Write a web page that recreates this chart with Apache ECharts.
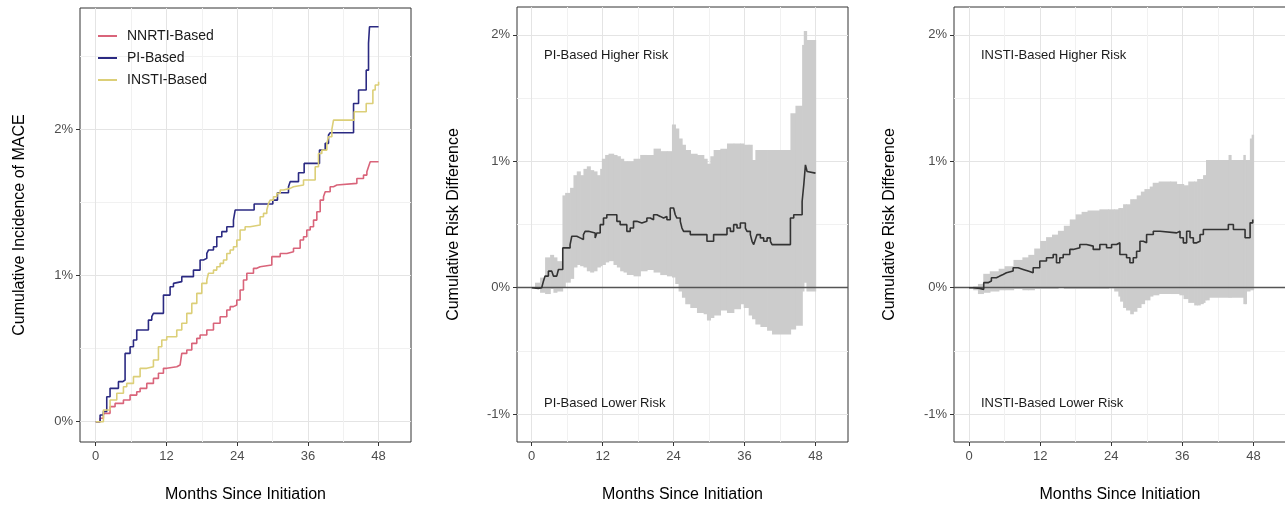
<!DOCTYPE html>
<html>
<head>
<meta charset="utf-8">
<script src="https://cdn.jsdelivr.net/npm/echarts@6/dist/echarts.min.js"></script>
<style>
  html, body { margin: 0; padding: 0; background: #fff; }
  #chart { width: 1285px; height: 505px; }
</style>
</head>
<body>
<div id="chart"></div>
<script>
// panel 1: cumulative incidence (%)
var nnrtiMonths = [0,0.74,1.30,2.43,3.28,4.70,5.83,6.96,7.53,8.66,9.79,10.64,11.49,12.05,13.75,14.32,14.60,15.45,16.30,17.15,17.71,18.85,19.98,21.11,22.24,22.81,23.37,23.94,24.50,25.07,25.64,26.77,27.33,27.90,29.88,31.30,32.43,33.56,34.69,35.26,35.82,36.39,36.96,37.52,38.09,38.65,38.94,39.78,40.35,40.92,44.31,45.44,46.01,46.29,46.58,48];
var nnrtiRisk = [0,0.023,0.057,0.103,0.125,0.148,0.182,0.205,0.228,0.262,0.296,0.331,0.365,0.376,0.388,0.399,0.467,0.490,0.536,0.570,0.593,0.627,0.673,0.718,0.764,0.787,0.798,0.832,0.901,0.969,1.015,1.049,1.060,1.072,1.129,1.151,1.163,1.186,1.243,1.265,1.311,1.334,1.379,1.436,1.516,1.539,1.573,1.607,1.619,1.630,1.664,1.687,1.710,1.744,1.778,1.778];

var piMonths = [0,0.74,1.30,1.87,2.43,3.85,4.60,4.98,5.83,6.40,6.96,8.94,9.51,9.79,11.49,12.62,13.19,13.47,14.60,16.58,17.71,18.28,18.85,19.13,19.98,20.54,21.39,22.24,23.37,23.66,26.88,30.05,30.84,32.71,32.99,34.41,35.37,37.97,38.94,39.50,39.78,43.75,44.60,45.90,46.29,46.46,48];
var piRisk = [0,0.046,0.070,0.171,0.228,0.274,0.285,0.467,0.513,0.559,0.627,0.695,0.718,0.741,0.866,0.923,0.946,0.958,0.992,1.037,1.106,1.117,1.151,1.174,1.197,1.265,1.300,1.334,1.379,1.448,1.489,1.516,1.566,1.607,1.642,1.703,1.767,1.858,1.904,1.961,1.977,2.177,2.269,2.405,2.588,2.702,2.702];

var instiMonths = [0,1.30,2.43,3.57,4.70,5.26,6.40,7.53,8.66,9.79,10.64,11.21,12.05,13.75,14.60,15.45,16.30,17.15,18.00,18.85,19.13,19.98,20.54,21.11,21.68,22.24,22.81,23.37,23.94,24.50,25.35,26.20,27.90,28.47,29.03,29.32,29.60,30.16,30.73,31.30,31.86,32.99,33.56,35.26,37.24,37.80,38.37,39.22,39.50,40.07,40.35,43.86,45.90,47.03,47.43,48];
var instiRisk = [0,0.080,0.148,0.194,0.239,0.262,0.308,0.365,0.376,0.422,0.513,0.559,0.581,0.627,0.673,0.741,0.809,0.878,0.946,0.969,1.015,1.037,1.060,1.083,1.106,1.151,1.174,1.197,1.243,1.311,1.334,1.345,1.402,1.425,1.448,1.493,1.516,1.539,1.562,1.585,1.596,1.607,1.619,1.653,1.744,1.835,1.858,1.904,1.949,2.000,2.063,2.120,2.177,2.269,2.303,2.326];

// panel 2: PI vs NNRTI risk difference (%)
var piDiffMonths = [0,0.28,1.13,1.69,1.98,2.26,2.82,3.39,3.67,4.23,4.52,5.25,6.49,6.78,7.62,8.19,8.75,9.03,9.60,9.88,10.73,11.01,11.58,12.14,12.70,14.40,14.96,16.09,16.66,17.22,17.79,18.63,18.92,19.48,20.05,20.61,21.17,21.74,22.30,22.87,23.43,24.00,24.28,24.56,25.13,25.41,25.69,26.82,29.64,30.77,33.03,33.60,34.16,34.73,35.29,36.14,36.42,36.98,37.27,37.55,37.83,38.11,38.68,39.24,39.81,40.37,40.65,43.76,44.32,45.74,46.02,46.30,46.58,46.87,48];
var piDiff = [0,-0.005,0,0.013,0.052,0.092,0.131,0.118,0.092,0.105,0.144,0.315,0.341,0.407,0.394,0.381,0.420,0.446,0.459,0.433,0.394,0.433,0.499,0.551,0.577,0.525,0.499,0.446,0.472,0.525,0.512,0.499,0.525,0.551,0.538,0.577,0.564,0.551,0.564,0.538,0.630,0.617,0.577,0.551,0.525,0.472,0.446,0.420,0.367,0.420,0.472,0.446,0.499,0.472,0.512,0.472,0.446,0.420,0.367,0.341,0.381,0.420,0.394,0.367,0.394,0.367,0.341,0.551,0.577,0.682,0.814,0.971,0.919,0.906,0.906];
var piCiMonths = [0,0.56,1.41,2.26,3.11,3.67,4.23,5.2,5.65,6.49,7.06,7.62,8.19,8.75,9.32,9.88,10.45,11.01,11.58,11.86,12.42,12.99,13.83,14.40,14.96,15.53,16.09,17.22,18.35,19.48,20.61,21.74,22.87,23.72,24.28,24.84,25.41,25.97,26.82,27.95,29.08,29.64,30.21,30.77,31.90,33.03,34.16,35.29,35.86,36.70,37.27,37.83,38.68,39.81,40.65,43.76,44.61,45.74,46.02,46.47,48];
var piCiLower = [0,-0.01,-0.04,-0.05,-0.01,-0.04,-0.03,0.0,0.04,0.07,0.16,0.18,0.17,0.16,0.13,0.12,0.13,0.16,0.17,0.18,0.20,0.21,0.18,0.16,0.13,0.12,0.10,0.09,0.13,0.14,0.12,0.10,0.09,0.08,0.03,-0.03,-0.08,-0.13,-0.16,-0.20,-0.21,-0.26,-0.24,-0.22,-0.18,-0.20,-0.17,-0.13,-0.16,-0.22,-0.25,-0.29,-0.31,-0.34,-0.37,-0.33,-0.30,-0.03,0.04,-0.03,-0.03];
var piCiUpper = [0,0.04,0.08,0.24,0.26,0.24,0.21,0.73,0.75,0.79,0.89,0.92,0.89,0.94,0.96,0.93,0.92,0.89,0.94,1.02,1.05,1.06,1.05,1.04,1.02,1.00,1.00,1.02,1.05,1.05,1.10,1.08,1.08,1.29,1.26,1.18,1.13,1.09,1.06,1.05,1.02,0.98,1.04,1.09,1.10,1.14,1.14,1.14,1.13,1.13,1.01,1.09,1.09,1.09,1.09,1.38,1.44,1.92,2.03,1.96,1.96];

// panel 3: INSTI vs NNRTI risk difference (%)
var instiDiffMonths = [0,0.68,1.80,2.48,3.21,3.77,4.62,5.18,5.75,6.31,7.44,8.28,9.13,9.97,10.82,11.94,13.07,14.20,14.76,15.32,15.89,17.01,17.58,18.70,19.83,20.96,22.08,23.21,24.06,24.90,25.46,26.59,27.15,27.72,28.28,28.85,29.41,29.97,31.10,32.23,35.04,35.61,36.17,36.73,37.30,37.86,38.42,38.99,39.55,43.77,44.62,46.59,47.44,47.89,48];
var instiDiff = [0,-0.005,-0.013,0.04,0.053,0.079,0.092,0.105,0.118,0.132,0.158,0.145,0.132,0.118,0.158,0.211,0.237,0.263,0.197,0.237,0.263,0.303,0.316,0.342,0.329,0.303,0.342,0.316,0.342,0.355,0.263,0.237,0.197,0.237,0.289,0.368,0.355,0.421,0.447,0.434,0.447,0.395,0.355,0.447,0.395,0.355,0.368,0.421,0.461,0.500,0.461,0.395,0.513,0.539,0.539];
var instiCiMonths = [0,0.7,1.5,2.4,3.5,5,6,7.5,9,10,11,12,13,14,15,16,17,18,19,20,22,23.5,24.5,25.2,25.5,26,26.5,27.2,27.7,28.3,29,29.6,30.5,31,32,34,35,35.5,36.2,37,38,38.5,39,39.5,39.8,40,40.5,43.8,44.2,46.3,46.6,46.8,47.4,47.7,48];
var instiCiLower = [0,-0.02,-0.05,-0.04,-0.03,-0.02,-0.02,-0.01,-0.02,-0.02,-0.01,-0.01,-0.01,-0.01,0.0,-0.01,-0.01,-0.01,-0.01,-0.01,-0.01,-0.005,-0.03,-0.07,-0.11,-0.16,-0.18,-0.21,-0.19,-0.16,-0.13,-0.10,-0.07,-0.06,-0.05,-0.05,-0.05,-0.06,-0.09,-0.12,-0.14,-0.14,-0.13,-0.12,-0.10,-0.10,-0.08,-0.08,-0.08,-0.13,-0.13,-0.03,-0.02,-0.02,-0.02];
var instiCiUpper = [0,0.01,0.03,0.11,0.13,0.15,0.17,0.22,0.24,0.26,0.31,0.37,0.40,0.42,0.45,0.49,0.54,0.58,0.60,0.61,0.62,0.62,0.62,0.63,0.63,0.66,0.66,0.70,0.70,0.73,0.76,0.78,0.80,0.83,0.84,0.84,0.82,0.82,0.81,0.84,0.84,0.86,0.86,0.89,0.89,1.01,1.01,1.05,1.01,1.05,1.01,1.01,1.18,1.21,1.21];

// ticks
var monthTicks = [0, 12, 24, 36, 48];
var monthMinor = [6, 18, 30, 42];
var incTicks = [0, 1, 2];
var incMinor = [0.5, 1.5, 2.5];
var diffTicks = [-1, 0, 1, 2];
var diffMinor = [-0.5, 0.5, 1.5];

var FONT = 'Liberation Sans, Arial, sans-serif';

function pairs(xs, ys) {
  return xs.map(function (x, i) { return [x, ys[i]]; });
}

function xAxes(gi, min, max) {
  return [{
    gridIndex: gi, type: 'value', min: min, max: max,
    axisLine: { show: false, onZero: false },
    axisTick: { show: true, customValues: monthTicks, length: 4, lineStyle: { color: '#333' } },
    axisLabel: { customValues: monthTicks, color: '#4d4d4d', fontSize: 13, margin: 8 },
    splitLine: { show: true, lineStyle: { color: '#e4e4e4', width: 1 } },
    name: 'Months Since Initiation', nameLocation: 'middle', nameGap: 45,
    nameTextStyle: { fontSize: 16, color: '#000' }
  }, {
    gridIndex: gi, type: 'value', min: min, max: max, position: 'bottom',
    axisLine: { show: false, onZero: false },
    axisTick: { show: false, customValues: monthMinor },
    axisLabel: { show: false },
    splitLine: { show: true, lineStyle: { color: '#f1f1f1', width: 1 } }
  }];
}

function yAxes(gi, min, max, ticks, minor, name, gap) {
  return [{
    gridIndex: gi, type: 'value', min: min, max: max,
    axisLine: { show: false, onZero: false },
    axisTick: { show: true, customValues: ticks, length: 4, lineStyle: { color: '#333' } },
    axisLabel: { customValues: ticks, color: '#4d4d4d', fontSize: 13, margin: 7, formatter: '{value}%' },
    splitLine: { show: true, lineStyle: { color: '#e4e4e4', width: 1 } },
    name: name, nameLocation: 'middle', nameGap: gap,
    nameTextStyle: { fontSize: 16, color: '#000' }
  }, {
    gridIndex: gi, type: 'value', min: min, max: max, position: 'left',
    axisLine: { show: false, onZero: false },
    axisTick: { show: false, customValues: minor },
    axisLabel: { show: false },
    splitLine: { show: true, lineStyle: { color: '#f1f1f1', width: 1 } }
  }];
}

function stepLine(name, xi, xs, ys, color) {
  return {
    type: 'line', name: name, xAxisIndex: xi, yAxisIndex: xi,
    data: pairs(xs, ys), step: 'end', symbol: 'none', z: 5,
    lineStyle: { color: color, width: 1.6 }, itemStyle: { color: color }
  };
}

// confidence band: one rectangle per step, from month i to month i+1
function ribbon(xi, xs, lower, upper) {
  var rows = xs.slice(0, -1).map(function (x, i) {
    return [x, xs[i + 1], lower[i], upper[i]];
  });
  return {
    type: 'custom', xAxisIndex: xi, yAxisIndex: xi, silent: true, z: 2,
    encode: { x: [0, 1], y: [2, 3] },
    data: rows,
    renderItem: function (params, api) {
      var a = api.coord([api.value(0), api.value(3)]);
      var b = api.coord([api.value(1), api.value(2)]);
      return {
        type: 'rect',
        shape: { x: a[0], y: a[1], width: b[0] - a[0] + 0.7, height: b[1] - a[1] },
        style: { fill: '#cccccc' }
      };
    }
  };
}

function diffLine(name, xi, xs, ys) {
  return {
    type: 'line', name: name, xAxisIndex: xi, yAxisIndex: xi,
    data: pairs(xs, ys), step: 'end', symbol: 'none', z: 6,
    lineStyle: { color: '#333333', width: 1.6 },
    markLine: {
      silent: true, symbol: ['none', 'none'], label: { show: false },
      lineStyle: { color: '#555555', width: 1.3, type: 'solid' },
      data: [{ yAxis: 0 }]
    }
  };
}

function note(text, x, y) {
  return {
    type: 'text', left: x, top: y, z: 100,
    style: { text: text, fontSize: 13, fontFamily: FONT, fill: '#1a1a1a' }
  };
}

var myChart = echarts.init(document.getElementById('chart'));
var gridBase = { show: true, borderColor: '#333', borderWidth: 1, backgroundColor: '#fff', outerBoundsMode: 'none', containLabel: false };
var option = {
  animation: false,
  textStyle: { fontFamily: FONT },
  grid: [
    Object.assign({ left: 80, top: 8, width: 331, height: 434 }, gridBase),
    Object.assign({ left: 517, top: 7, width: 331, height: 435 }, gridBase),
    Object.assign({ left: 954, top: 7, width: 332, height: 435 }, gridBase)
  ],
  xAxis: [].concat(xAxes(0, -2.67, 53.5), xAxes(1, -2.49, 53.5), xAxes(2, -2.54, 53.5)),
  yAxis: [].concat(
    yAxes(0, -0.139, 2.83, incTicks, incMinor, 'Cumulative Incidence of MACE', 52),
    yAxes(1, -1.22, 2.22, diffTicks, diffMinor, 'Cumulative Risk Difference', 55),
    yAxes(2, -1.22, 2.22, diffTicks, diffMinor, 'Cumulative Risk Difference', 56)
  ),
  legend: {
    left: 98, top: 29, padding: 0, orient: 'vertical', icon: 'rect',
    itemWidth: 19, itemHeight: 2, itemGap: 8,
    textStyle: { fontSize: 14, color: '#1a1a1a', padding: [0, 0, 0, 5] },
    data: ['NNRTI-Based', 'PI-Based', 'INSTI-Based']
  },
  graphic: [
    note('PI-Based Higher Risk', 544, 49),
    note('PI-Based Lower Risk', 544, 397),
    note('INSTI-Based Higher Risk', 981, 49),
    note('INSTI-Based Lower Risk', 981, 397)
  ],
  series: [].concat(
    [stepLine('NNRTI-Based', 0, nnrtiMonths, nnrtiRisk, '#d9647a'),
     stepLine('PI-Based', 0, piMonths, piRisk, '#2b2a82'),
     stepLine('INSTI-Based', 0, instiMonths, instiRisk, '#dccf78')],
    [ribbon(2, piCiMonths, piCiLower, piCiUpper),
     diffLine('PI vs NNRTI', 2, piDiffMonths, piDiff)],
    [ribbon(4, instiCiMonths, instiCiLower, instiCiUpper),
     diffLine('INSTI vs NNRTI', 4, instiDiffMonths, instiDiff)]
  )
};
myChart.setOption(option);
</script>
</body>
</html>
